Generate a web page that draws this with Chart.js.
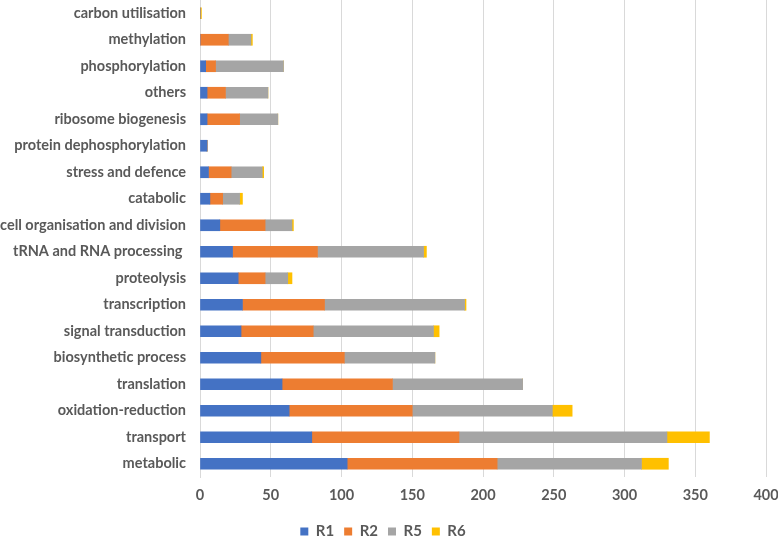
<!DOCTYPE html>
<html>
<head>
<meta charset="utf-8">
<script src="https://cdn.jsdelivr.net/npm/chart.js@4/dist/chart.umd.min.js"></script>
<style>
    html, body { margin: 0; padding: 0; background: #fff; }
    #wrap { width: 778px; height: 536px; position: relative; }
</style>
</head>
<body>
<div id="wrap"><canvas id="chart"></canvas></div>
<script>
// categories, top to bottom as they appear
const categories = [
    'carbon utilisation', 'methylation', 'phosphorylation', 'others',
    'ribosome biogenesis', 'protein dephosphorylation', 'stress and defence',
    'catabolic', 'cell organisation and division', 'tRNA and RNA processing ',
    'proteolysis', 'transcription', 'signal transduction', 'biosynthetic process',
    'translation', 'oxidation-reduction', 'transport', 'metabolic'
];

const r1 = [0, 0, 4, 5, 5, 5, 6, 7, 14, 23, 27, 30, 29, 43, 58, 63, 79, 104];
const r2 = [0, 20, 7, 13, 23, 0, 16, 9, 32, 60, 19, 58, 51, 59, 78, 87, 104, 106];
const r5 = [0, 16, 48, 30, 27, 0, 22, 12, 19, 75, 16, 99, 85, 64, 92, 99, 147, 102];
const r6 = [1, 1, 0, 0, 0, 0, 1, 2, 1, 2, 3, 1, 4, 0, 0, 14, 30, 19];

const xTicks = [0, 50, 100, 150, 200, 250, 300, 350, 400];

const textColor = '#595959';
const gridColor = '#d9d9d9';
const font = { family: 'Lato, "Open Sans", sans-serif', size: 14.5, weight: 'bold' };

function series(label, data, color) {
    return {
        label: label,
        data: data,
        backgroundColor: color,
        borderWidth: 0,
        barThickness: 11
    };
}

new Chart(document.getElementById('chart'), {
    type: 'bar',
    data: {
        labels: categories,
        datasets: [
            series('R1', r1, '#4472C4'),
            series('R2', r2, '#ED7D31'),
            series('R5', r5, '#A5A5A5'),
            series('R6', r6, '#FFC000')
        ]
    },
    options: {
        indexAxis: 'y',
        responsive: true,
        maintainAspectRatio: false,
        animation: false,
        layout: { padding: { top: 0, right: 12, bottom: -13, left: 0 } },
        scales: {
            x: {
                stacked: true,
                min: 0,
                max: 400,
                afterBuildTicks: (axis) => { axis.ticks = xTicks.map(v => ({ value: v })); },
                afterFit: (axis) => {
                    axis.height = 37;
                    axis.paddingLeft = 0;
                    axis.paddingRight = 0;
                },
                grid: { color: gridColor, lineWidth: 1, drawTicks: false },
                border: { display: false },
                ticks: { color: textColor, font: font, padding: 10 }
            },
            y: {
                stacked: true,
                afterFit: (axis) => {
                    axis.width = 200;
                    axis.paddingTop = 0;
                    axis.paddingBottom = 0;
                },
                grid: { display: false, drawTicks: false },
                border: { display: true, color: gridColor, width: 1 },
                ticks: { color: textColor, font: font, padding: 14, autoSkip: false }
            }
        },
        plugins: {
            legend: {
                position: 'bottom',
                labels: {
                    color: textColor,
                    font: { family: font.family, size: 15, weight: 'bold' },
                    boxWidth: 8,
                    boxHeight: 8,
                    padding: 10
                }
            },
            tooltip: { enabled: false }
        }
    }
});
</script>
</body>
</html>
